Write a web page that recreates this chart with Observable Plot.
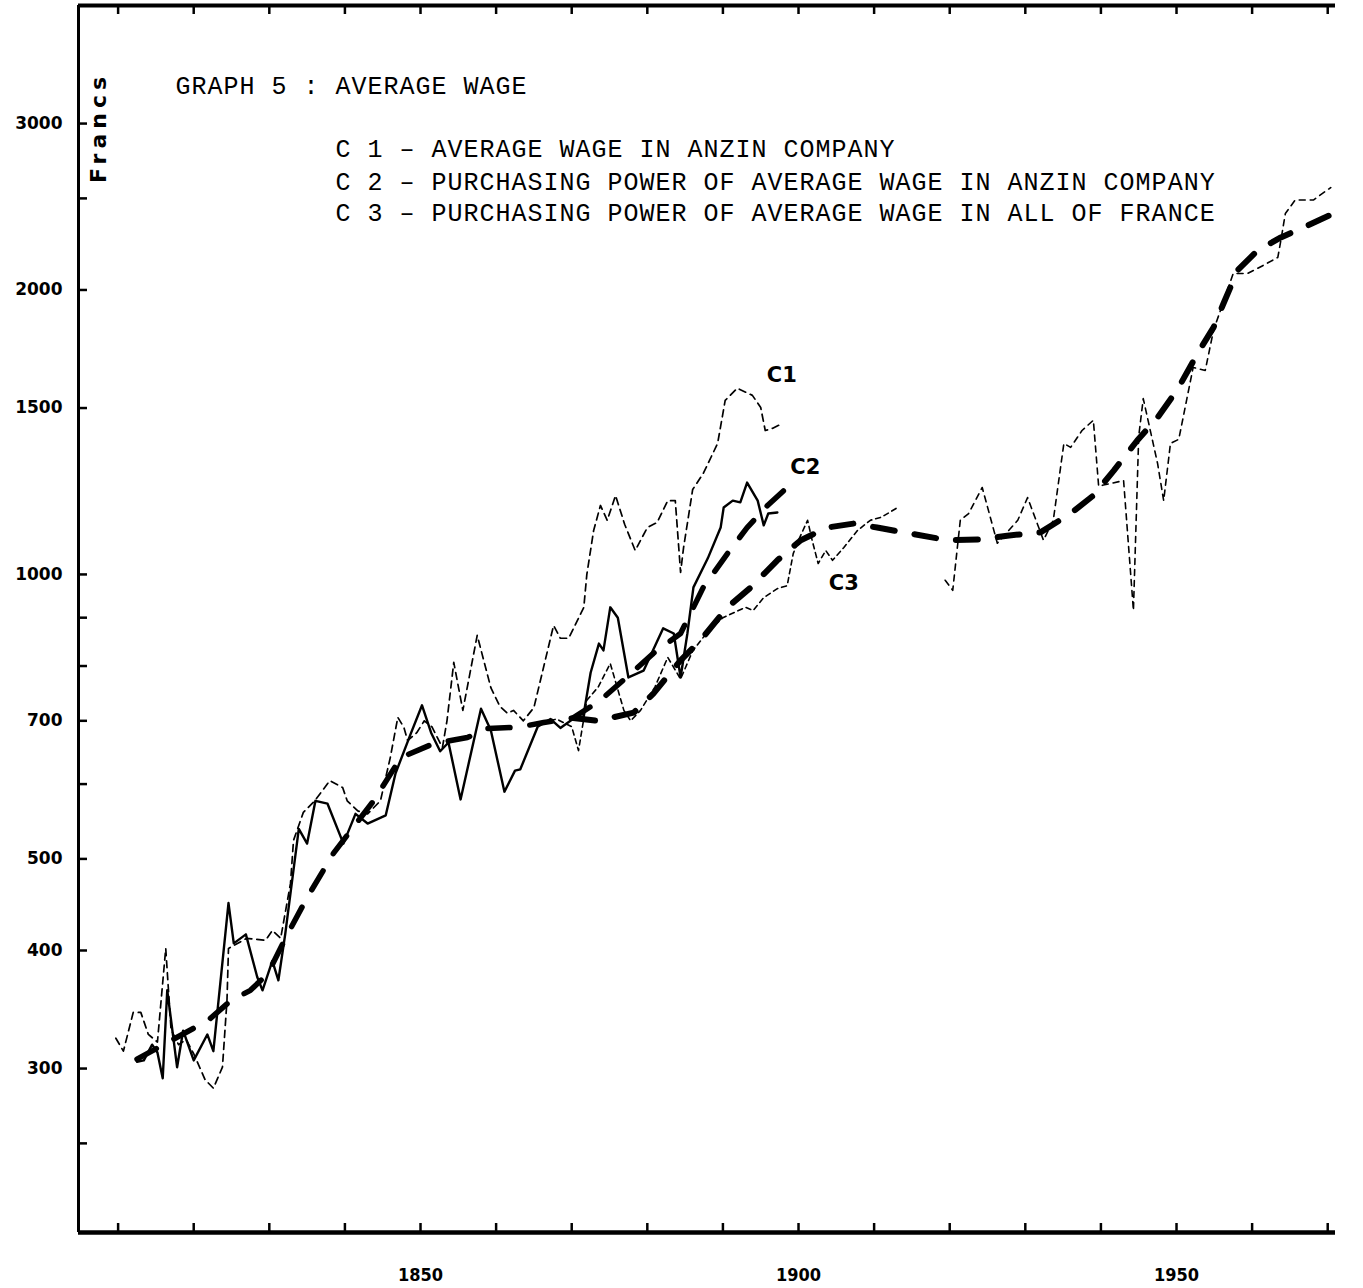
<!DOCTYPE html>
<html>
<head>
<meta charset="utf-8">
<script src="https://cdn.jsdelivr.net/npm/d3@7"></script>
<script src="https://cdn.jsdelivr.net/npm/@observablehq/plot@0.6"></script>
<style>
  html, body { margin: 0; padding: 0; background: #fff; }
  #chart svg { display: block; background: #fff; }
</style>
</head>
<body>
<div id="chart"></div>
<script>
// ---------- DATA (year, francs) ----------
const c1 = [ // average wage in Anzin company (thin dashed)
  [1809.7,323],[1810.7,313],[1812,344],[1813,344],[1814,326],[1815.2,320],[1816.3,402],[1817,330],
  [1818,318],[1819,322],[1820,311],[1821.5,292],[1822.6,286],[1823.8,301],[1824.4,354],[1824.6,402],
  [1827,412],[1829.5,410],[1830.4,420],[1831.5,412],[1832.8,471],[1833.2,523],[1834.5,560],[1836,576],
  [1838,605],[1839.7,595],[1840.3,576],[1841.7,562],[1843,558],[1844.7,576],[1846,640],[1847,706],
  [1847.8,689],[1848.3,667],[1849.5,680],[1850.5,700],[1851.5,690],[1852.9,656],[1853.5,700],[1854.4,807],
  [1855.6,718],[1857.5,862],[1859.3,759],[1860.5,725],[1861.5,713],[1862.3,718],[1863.6,700],[1865,723],
  [1867.6,883],[1868.5,856],[1869.6,856],[1871.6,923],[1872,1000],[1872.9,1113],[1873.8,1183],[1874.7,1141],
  [1875.8,1212],[1877,1130],[1878.4,1060],[1880,1121],[1881.3,1135],[1882.7,1197],[1883.7,1197],[1884.4,1005],
  [1884.8,1068],[1886,1230],[1887.4,1279],[1889.3,1376],[1890.3,1528],[1891.9,1574],[1893.9,1547],[1895,1502],
  [1895.6,1420],[1896.6,1428],[1897.9,1445]
];
const c2 = [ // purchasing power of average wage in Anzin company (solid)
  [1812.5,305],[1813.4,306],[1814.5,318],[1815.2,312],[1815.9,293],[1816.5,363],[1817.8,301],[1818.6,329],
  [1820,306],[1821.8,326],[1822.6,313],[1824.6,449],[1825.3,407],[1826.9,416],[1828.4,375],[1829.1,363],
  [1830.4,390],[1831.2,372],[1832.1,416],[1833.9,538],[1835,519],[1836.1,576],[1837.7,572],[1839.8,519],
  [1841.4,558],[1843,545],[1845.4,556],[1846.7,616],[1848.7,678],[1850.2,727],[1851.4,680],[1852.6,650],
  [1853.7,664],[1855.3,578],[1858,721],[1859.3,684],[1861.1,589],[1862.5,620],[1863.2,622],[1865.5,690],
  [1867.2,703],[1868.5,688],[1870.8,709],[1871.5,705],[1872.5,787],[1873.6,845],[1874.2,831],[1875.1,923],
  [1876.1,900],[1877.5,778],[1879.5,791],[1882.1,877],[1883.5,866],[1884.4,778],[1885.3,866],[1886.1,969],
  [1888,1040],[1889.7,1121],[1890.1,1177],[1891.3,1197],[1892.3,1192],[1893.2,1251],[1894.6,1197],
  [1895.4,1127],[1896,1160],[1897.2,1163]
];
const c2Trend = [ // smoothed C2 (heavy dashed)
  [1812.5,307],[1816,318],[1820,331],[1822.2,339],[1824.9,354],[1827.5,363],[1829.8,378],[1832.4,416],
  [1835,455],[1838.5,507],[1841.1,540],[1843.8,576],[1847.4,640],[1851.7,662],[1856.2,672],[1858.9,687],
  [1862.8,689],[1866.3,697],[1870.2,705],[1873.8,736],[1877,775],[1880.8,825],[1884.4,866],[1887.4,969],
  [1890.6,1052],[1893.2,1121],[1895.9,1183],[1898.5,1236]
];
const c3Trend = [ // smoothed C3 (heavy dashed)
  [1870.2,705],[1873.4,700],[1878.2,714],[1880.8,748],[1884.4,811],[1887,851],[1890.6,923],[1893.7,969],
  [1897.2,1035],[1900.3,1087],[1903.8,1121],[1907.3,1132],[1910.4,1121],[1914.8,1105],[1919.7,1087],
  [1924.1,1089],[1927.6,1099],[1932,1108],[1936,1160],[1939,1212],[1941.7,1288],[1944.8,1386],[1947.5,1466],
  [1950.1,1568],[1952.8,1714],[1954.9,1826],[1956.2,1934],[1958.1,2099],[1960.7,2201],[1963.8,2273],
  [1967.3,2339],[1970.8,2410]
];
const c3Early = [ // purchasing power, all of France, to 1913 (thin dotted)
  [1866,697],[1868,703],[1870,690],[1870.9,651],[1872,736],[1873.5,760],[1875.1,805],[1876.9,718],
  [1877.8,700],[1879.1,718],[1881,760],[1882.7,817],[1884.4,775],[1886,830],[1888,870],[1890,900],
  [1893,923],[1894,916],[1895.4,945],[1897.2,966],[1898.5,973],[1899.3,1052],[1900,1087],[1901.2,1141],
  [1901.8,1087],[1902.6,1027],[1903.6,1060],[1904.5,1035],[1906,1068],[1907.8,1113],[1909.5,1141],
  [1911,1150],[1913.1,1177]
];
const c3Late = [ // purchasing power, all of France, from 1919 (thin dashed)
  [1919.4,986],[1920.4,962],[1921.4,1141],[1922.5,1160],[1924.3,1236],[1926.3,1079],[1929,1141],
  [1930.3,1206],[1932.4,1087],[1933.7,1141],[1935.1,1376],[1936,1363],[1937.5,1420],[1939,1456],
  [1939.7,1240],[1943,1257],[1944.3,916],[1945,1400],[1945.6,1535],[1947.5,1310],[1948.3,1197],
  [1949.2,1376],[1950.3,1390],[1952.2,1656],[1953.8,1644],[1954.9,1813],[1957.5,2082],[1959.4,2082],
  [1961.4,2122],[1963.4,2165],[1963.8,2256],[1964.4,2410],[1965.7,2490],[1968.1,2490],[1970.4,2567]
];

const yLabelValues = [300, 400, 500, 700, 1000, 1500, 2000, 3000];
const yTickValues = [250, 300, 400, 500, 600, 700, 800, 900, 1000, 1500, 2000, 2500, 3000];
const xLabelValues = [1850, 1900, 1950];
const xTickValues = [1810,1820,1830,1840,1850,1860,1870,1880,1890,1900,1910,1920,1930,1940,1950,1960,1970];

const curveLabels = [
  {text: "C1", year: 1897.8, value: 1624},
  {text: "C2", year: 1900.9, value: 1298},
  {text: "C3", year: 1906.0, value: 978}
];
const titleText = "GRAPH 5 : AVERAGE WAGE";
const legendLines = [
  "C 1 – AVERAGE WAGE IN ANZIN COMPANY",
  "C 2 – PURCHASING POWER OF AVERAGE WAGE IN ANZIN COMPANY",
  "C 3 – PURCHASING POWER OF AVERAGE WAGE IN ALL OF FRANCE"
];
const unitLabel = "Francs";

// ---------- LAYOUT ----------
const W = 1363, H = 1288;
const mL = 78, mR = 28, mT = 5, mB = 56;
const plotW = W - mL - mR, plotH = H - mT - mB;
const xDomain = [1804.76, 1971.03];
const yDomain = [201.2, 4000];
const legendRowsY = [143, 176, 207];

const toObj = arr => arr.map(([year, value]) => ({year, value}));
const mono = "Liberation Mono, DejaVu Sans Mono, monospace";
const bold = "DejaVu Sans, sans-serif";

const typeText = (txt, dx, dy) => Plot.text([txt], {frameAnchor: "top-left", dx, dy, text: d => d,
  textAnchor: "start", lineAnchor: "middle", fontSize: 25, fontFamily: mono, fill: "#000"});

const chart = Plot.plot({
  width: W, height: H,
  marginLeft: mL, marginRight: mR, marginTop: mT, marginBottom: mB,
  x: {domain: xDomain, axis: null},
  y: {type: "log", domain: yDomain, axis: null},
  style: {background: "#fff", color: "#000"},
  marks: [
    // frame
    Plot.ruleY([yDomain[0]], {strokeWidth: 4.5, stroke: "#000"}),
    Plot.ruleY([yDomain[1]], {strokeWidth: 4, stroke: "#000"}),
    Plot.ruleX([xDomain[0]], {strokeWidth: 3, stroke: "#000"}),
    Plot.tickY(yTickValues, {y: d => d, insetRight: plotW - 9, strokeWidth: 2.5, stroke: "#000"}),
    Plot.tickX(xTickValues, {x: d => d, insetTop: plotH - 9, strokeWidth: 2.5, stroke: "#000"}),
    Plot.tickX(xTickValues, {x: d => d, insetBottom: plotH - 9, strokeWidth: 2.5, stroke: "#000"}),
    // axis labels
    Plot.text(yLabelValues, {x: xDomain[0], y: d => d, text: d => String(d), dx: -16, textAnchor: "end",
      fontSize: 17, fontWeight: "bold", fontFamily: bold, fill: "#000"}),
    Plot.text(xLabelValues, {x: d => d, y: yDomain[0], text: d => String(d), dy: 43,
      fontSize: 18, fontWeight: "bold", fontFamily: "DejaVu Sans Condensed, DejaVu Sans, sans-serif", fill: "#000"}),
    // unit
    Plot.text([unitLabel], {frameAnchor: "top-left", dx: 20, dy: 122, rotate: -90, text: d => d,
      textAnchor: "middle", lineAnchor: "middle",
      fontSize: 22, fontWeight: "bold", fontFamily: bold, fill: "#000"}),
    // title & legend
    typeText(titleText, 175 - mL, 80),
    typeText(legendLines[0], 335 - mL, legendRowsY[0]),
    typeText(legendLines[1], 335 - mL, legendRowsY[1]),
    typeText(legendLines[2], 335 - mL, legendRowsY[2]),
    // curves
    Plot.line(toObj(c3Trend), {x: "year", y: "value", stroke: "#000", strokeWidth: 6, strokeDasharray: "22,20", strokeLinecap: "round"}),
    Plot.line(toObj(c2Trend), {x: "year", y: "value", stroke: "#000", strokeWidth: 5.5, strokeDasharray: "22,20", strokeLinecap: "round"}),
    Plot.line(toObj(c3Early), {x: "year", y: "value", stroke: "#000", strokeWidth: 1.6, strokeDasharray: "5,4"}),
    Plot.line(toObj(c3Late), {x: "year", y: "value", stroke: "#000", strokeWidth: 1.6, strokeDasharray: "6,5"}),
    Plot.line(toObj(c1), {x: "year", y: "value", stroke: "#000", strokeWidth: 1.7, strokeDasharray: "7,5"}),
    Plot.line(toObj(c2), {x: "year", y: "value", stroke: "#000", strokeWidth: 2.4}),
    // curve labels
    Plot.text(curveLabels, {x: "year", y: "value", text: "text", fontSize: 21, fontWeight: "bold", fontFamily: bold, fill: "#000"})
  ]
});

document.getElementById("chart").appendChild(chart);

// typewriter pitch (16px per character) and spaced unit label
const typed = new Set([titleText, ...legendLines]);
d3.select(chart).selectAll("text").each(function () {
  const t = this.textContent;
  if (typed.has(t)) d3.select(this).attr("letter-spacing", "1px");
  if (t === unitLabel) d3.select(this).attr("letter-spacing", "5px");
});
</script>
</body>
</html>
